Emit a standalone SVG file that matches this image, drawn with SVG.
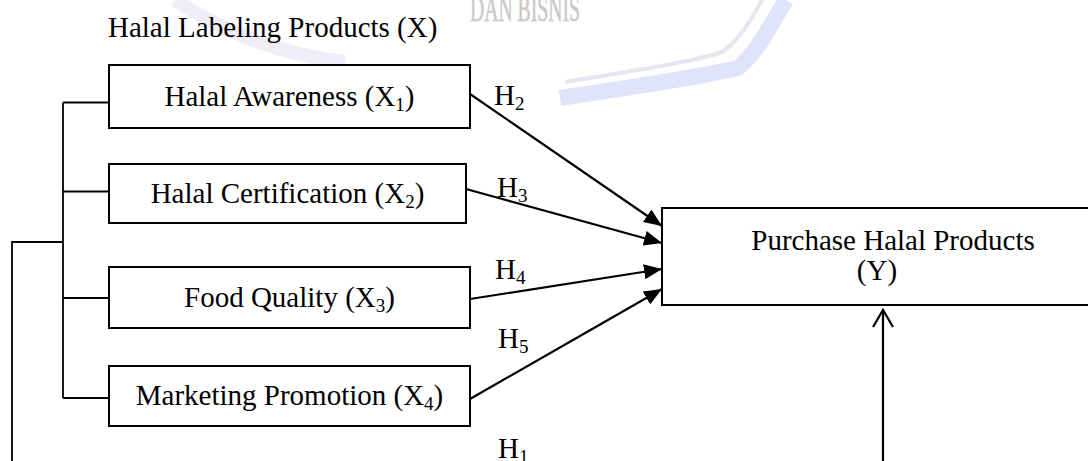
<svg xmlns="http://www.w3.org/2000/svg" width="1088" height="461" viewBox="0 0 1088 461">
  <defs>
    <style>
      .t{font-family:"Liberation Serif","Times New Roman",serif;font-size:29px;fill:#000}
      .s{font-size:19px}
      .box{fill:#fff;stroke:#000;stroke-width:2}
      .ln{fill:none;stroke:#000;stroke-width:1.8}
      .arr{fill:none;stroke:#000;stroke-width:2.2;marker-end:url(#ah)}
      .wm{font-family:"Liberation Serif","Times New Roman",serif;font-size:35px;fill:#c6c6c6;stroke:#d2d2d2;stroke-width:0.8}
    </style>
    <marker id="ah" markerUnits="userSpaceOnUse" markerWidth="19" markerHeight="15" refX="18" refY="7.5" orient="auto">
      <path d="M0,0 L18,7.5 L0,15 z" fill="#000"/>
    </marker>
  </defs>
  <rect width="1088" height="461" fill="#fff"/>

  <!-- faint watermark -->
  <g id="watermark">
    <path d="M175,0 C220,30 280,55 345,62" fill="none" stroke="#efeef8" stroke-width="14"/>
    <path d="M565,82 C640,70 700,60 722,52 C740,40 752,18 762,0" fill="none" stroke="#e6e6ee" stroke-width="4"/>
    <path d="M560,98 C640,86 710,75 738,68 C758,52 772,22 786,0" fill="none" stroke="#dfe4fa" stroke-width="16"/>
    <text class="wm" x="470" y="21" textLength="110" lengthAdjust="spacingAndGlyphs">DAN BISNIS</text>
  </g>

  <text id="title" class="t" x="108" y="37">Halal Labeling Products (X)</text>

  <g id="connectors">
    <path class="ln" d="M12,461 V242 H63"/>
    <path class="ln" d="M63,102.5 V398"/>
    <path class="ln" d="M63,102.5 H109 M63,191.5 H109 M63,298 H109 M63,398 H109"/>
    <line class="arr" x1="470" y1="94" x2="662" y2="226"/>
    <line class="arr" x1="466" y1="189" x2="662" y2="243"/>
    <line class="arr" x1="470" y1="299" x2="662" y2="269"/>
    <line class="arr" x1="470" y1="399" x2="662" y2="289"/>
    <line x1="883" y1="461" x2="883" y2="311" stroke="#000" stroke-width="2.2"/>
    <polyline points="873,327 883,310 893,327" fill="none" stroke="#000" stroke-width="2.2"/>
    <text class="t" x="494" y="105">H<tspan class="s" dy="5">2</tspan></text>
    <text class="t" x="497" y="197">H<tspan class="s" dy="5">3</tspan></text>
    <text class="t" x="495" y="279">H<tspan class="s" dy="5">4</tspan></text>
    <text class="t" x="498" y="348">H<tspan class="s" dy="5">5</tspan></text>
    <text class="t" x="498" y="458">H<tspan class="s" dy="5">1</tspan></text>
  </g>

  <g id="x1">
    <rect class="box" x="109" y="65" width="361" height="63"/>
    <text class="t" x="289.5" y="106" text-anchor="middle">Halal Awareness (X<tspan class="s" dy="5">1</tspan><tspan dy="-5">)</tspan></text>
  </g>
  <g id="x2">
    <rect class="box" x="109" y="164" width="357" height="59"/>
    <text class="t" x="287.5" y="203" text-anchor="middle">Halal Certification (X<tspan class="s" dy="5">2</tspan><tspan dy="-5">)</tspan></text>
  </g>
  <g id="x3">
    <rect class="box" x="109" y="267" width="361" height="61"/>
    <text class="t" x="289.5" y="307" text-anchor="middle">Food Quality (X<tspan class="s" dy="5">3</tspan><tspan dy="-5">)</tspan></text>
  </g>
  <g id="x4">
    <rect class="box" x="109" y="366" width="361" height="60"/>
    <text class="t" x="289.5" y="405" text-anchor="middle">Marketing Promotion (X<tspan class="s" dy="5">4</tspan><tspan dy="-5">)</tspan></text>
  </g>
  <g id="y">
    <rect class="box" x="662" y="208" width="440" height="97"/>
    <text class="t" x="893" y="250" text-anchor="middle">Purchase Halal Products</text>
    <text class="t" x="877" y="280" text-anchor="middle">(Y)</text>
  </g>
</svg>
